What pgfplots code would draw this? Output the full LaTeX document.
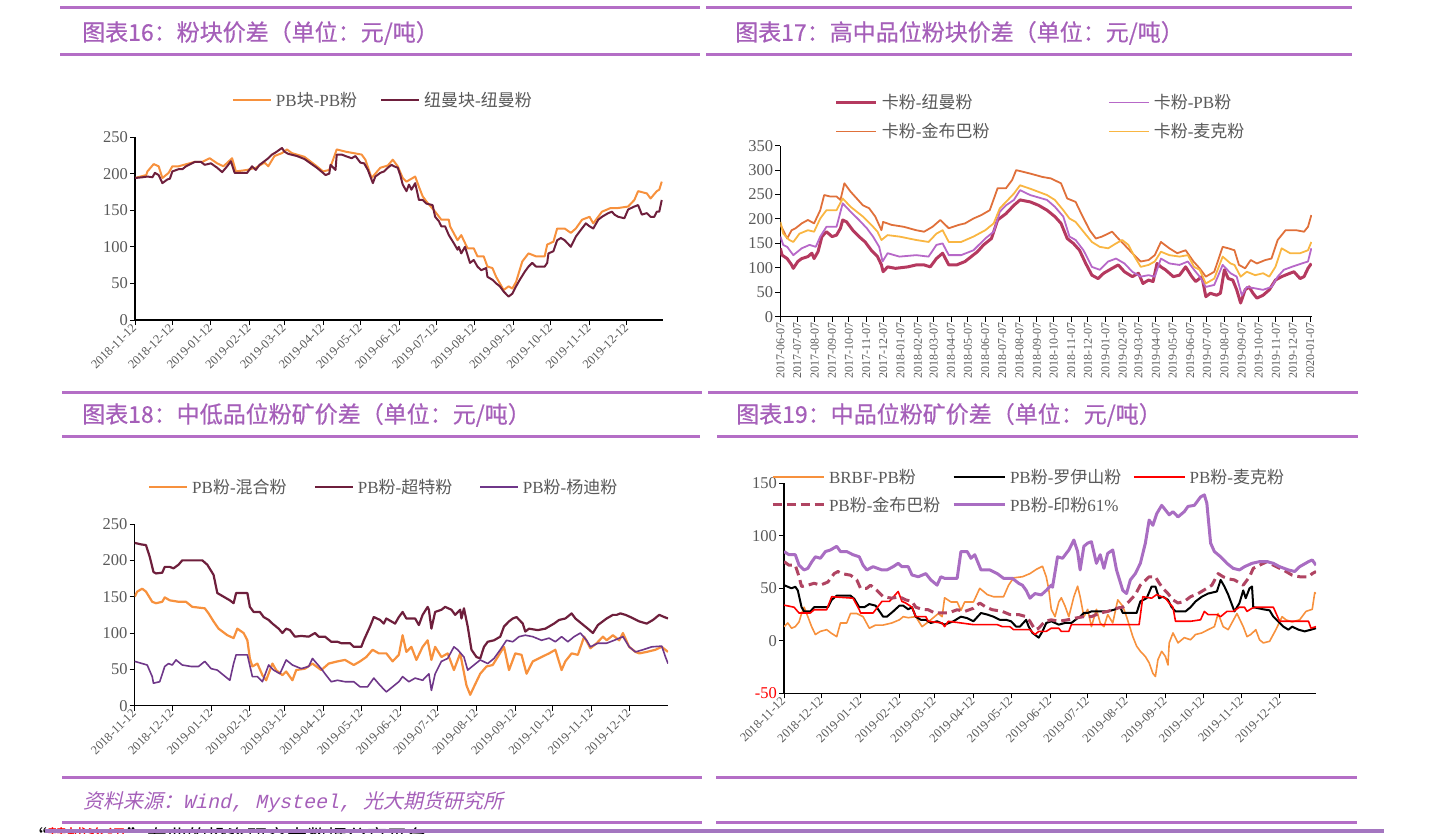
\documentclass[border=0pt]{standalone}
\usepackage{fontspec}
\usepackage{pgfplots}
\pgfplotsset{compat=1.18}
\setmainfont{Liberation Serif}
\newfontfamily\cjk{Noto Sans CJK SC}
\newfontfamily\cjkt{Noto Sans CJK SC}[FakeBold=0.6]
\newfontfamily\cjksl{Noto Sans CJK SC}[FakeSlant=0.22]
\newfontfamily\monosl{Liberation Mono}[FakeSlant=0.22]
\newcommand\zh[1]{{\cjk #1}}
\definecolor{deco}{HTML}{B46EC6}
\definecolor{deco2}{HTML}{A476C0}
\definecolor{titlec}{HTML}{A55FB9}
\definecolor{lblgray}{HTML}{595959}
\definecolor{org}{HTML}{F7913D}
\definecolor{maroonA}{HTML}{6E1F3C}
\definecolor{ptwomaroon}{HTML}{B5395F}
\definecolor{ptwopurple}{HTML}{B768C8}
\definecolor{ptwoorange}{HTML}{E0703A}
\definecolor{ptwoyellow}{HTML}{F9B642}
\definecolor{pthreepurple}{HTML}{6F3789}
\definecolor{pfourdash}{HTML}{B04462}
\definecolor{pfourpurple}{HTML}{A96DC2}
\pgfplotsset{
  panel/.style={
    scale only axis, axis lines=left, axis line style={-, line width=1.2pt, black},
    enlargelimits=false, clip=true,
    tick align=outside, major tick length=5pt, tick style={line width=1pt, black},
    yticklabel style={font=\fontsize{16.5}{16.5}\selectfont, text=lblgray, inner sep=2pt},
    legend style={draw=none, fill=none, font=\fontsize{17}{17}\selectfont, text=lblgray, inner sep=0pt, outer sep=0pt, nodes={inner sep=1pt},
      /tikz/every odd column/.append style={column sep=3pt}},
    legend cell align=left,
    every axis plot/.append style={line join=round},
  },
  datesA/.style={
    xtick={0,30,61,92,120,151,181,212,242,273,304,334,365,395},
    xticklabels={2018-11-12,2018-12-12,2019-01-12,2019-02-12,2019-03-12,2019-04-12,2019-05-12,2019-06-12,2019-07-12,2019-08-12,2019-09-12,2019-10-12,2019-11-12,2019-12-12},
    xticklabel style={font=\fontsize{12.5}{12.5}\selectfont, text=lblgray, rotate=45, anchor=east, inner sep=1pt},
  },
}
\begin{document}
\begin{tikzpicture}
\useasboundingbox (0pt,0pt) rectangle (1440pt,-833pt);
% ---------- decorations ----------
\begin{scope}[line width=3pt, draw=deco]
\draw (60pt,-7pt) -- (700pt,-7pt);
\draw (706pt,-7pt) -- (1352pt,-7pt);
\draw (60pt,-54pt) -- (700pt,-54pt);
\draw (706pt,-54pt) -- (1352pt,-54pt);
\draw (62pt,-392pt) -- (702pt,-392pt);
\draw (708pt,-392pt) -- (1358pt,-392pt);
\draw (62pt,-436pt) -- (700pt,-436pt);
\draw (717pt,-436pt) -- (1358pt,-436pt);
\draw (62pt,-777pt) -- (702pt,-777pt);
\draw (716pt,-777pt) -- (1357pt,-777pt);
\draw (62pt,-822pt) -- (702pt,-822pt);
\draw (716pt,-822pt) -- (1357pt,-822pt);
\end{scope}
\begin{scope}[every node/.style={anchor=west, inner sep=0pt, text=titlec, font=\cjkt\fontsize{23}{23}\selectfont}]
\node at (82pt,-33pt) {图表16：粉块价差（单位：元/吨）};
\node at (735pt,-33pt) {图表17：高中品位粉块价差（单位：元/吨）};
\node at (82pt,-415pt) {图表18：中低品位粉矿价差（单位：元/吨）};
\node at (736pt,-415pt) {图表19：中品位粉矿价差（单位：元/吨）};
\end{scope}
\node[anchor=west, inner sep=0pt, text=titlec, font=\fontsize{20}{20}\selectfont] at (83pt,-802pt) {{\cjksl 资料来源：}{\monosl Wind, Mysteel, }{\cjksl 光大期货研究所}};
\node[anchor=north west, inner sep=0pt, font=\cjk\fontsize{20}{20}\selectfont] at (27pt,-827pt) {“{\color{red}慧博资讯}”专业的投资研究大数据分享平台};
\draw[line width=4pt, draw=deco2] (45pt,-830.5pt) -- (1384pt,-830.5pt);

% ---------- Panel 1 ----------
\begin{axis}[panel, datesA, at={(135pt,-320pt)}, anchor=south west, width=528pt, height=183pt,
  xmin=0, xmax=424, ymin=0, ymax=250, ytick={0,50,100,150,200,250}, yticklabels={0,50,100,150,200,250},
  legend columns=2, legend style={at={(0.1837,1.202)}, anchor=west, /tikz/every even column/.append style={column sep=22pt}},
  legend image code/.code={\draw[#1] (0pt,0pt) -- (38pt,0pt);}]
\addplot[color=org, line width=2pt] coordinates {(0,194)(9,198)(10,203)(15,213)(19,210)(22,194)(27,201)(30,210)(35,210)(48,216)(54,216)(60,221)(66,214)(71,210)(78,221)(81,203)(90,205)(97,208)(104,215)(107,210)(112,224)(118,228)(122,233)(126,228)(136,223)(146,210)(151,203)(156,205)(158,214)(162,233)(169,230)(182,226)(185,219)(190,194)(197,208)(203,211)(207,219)(211,210)(215,194)(218,189)(225,196)(228,182)(231,169)(234,162)(241,148)(246,137)(252,137)(253,128)(259,109)(262,116)(267,98)(272,98)(275,87)(280,87)(283,73)(287,71)(290,59)(293,50)(296,41)(300,46)(303,43)(306,52)(311,80)(316,91)(322,87)(329,87)(331,103)(336,107)(339,125)(345,125)(350,119)(354,125)(359,137)(365,141)(368,132)(375,148)(382,153)(388,153)(396,155)(401,164)(404,176)(411,173)(414,166)(419,176)(421,178)(423,189)};
\addlegendentry{PB\zh{块}-PB\zh{粉}}
\addplot[color=maroonA, line width=2pt] coordinates {(0,194)(6,195)(10,196)(14,195)(16,201)(19,198)(22,187)(26,192)(28,193)(30,203)(35,206)(38,206)(41,210)(48,216)(53,216)(56,212)(61,214)(66,208)(70,202)(74,210)(77,217)(80,201)(90,201)(94,210)(97,205)(100,212)(104,217)(107,221)(110,226)(113,229)(118,235)(120,230)(123,227)(130,224)(136,220)(141,214)(146,208)(151,201)(153,198)(156,200)(157,212)(161,205)(162,226)(166,226)(169,224)(174,221)(177,224)(181,215)(184,214)(187,205)(191,187)(193,196)(197,201)(200,203)(203,208)(206,212)(208,210)(211,208)(213,198)(215,185)(218,176)(220,185)(222,178)(225,187)(228,164)(231,164)(234,159)(239,157)(241,141)(244,135)(246,128)(249,128)(252,116)(256,105)(259,96)(260,100)(262,91)(265,100)(269,78)(272,82)(275,73)(278,68)(282,71)(283,59)(287,55)(290,50)(293,46)(296,39)(300,32)(303,36)(306,46)(309,55)(313,66)(316,73)(319,78)(322,73)(329,73)(331,78)(332,91)(336,94)(339,109)(342,112)(345,109)(350,100)(354,114)(358,123)(362,132)(365,128)(368,125)(372,137)(375,141)(380,146)(383,148)(385,144)(388,141)(393,139)(396,151)(401,155)(404,157)(407,144)(411,146)(414,141)(417,141)(419,148)(421,148)(423,164)};
\addlegendentry{\zh{纽曼块}-\zh{纽曼粉}}
\end{axis}

% ---------- Panel 2 ----------
\begin{axis}[panel, at={(780.4pt,-316.7pt)}, anchor=south west, width=531.5pt, height=171pt,
  xmin=0, xmax=947, ymin=0, ymax=350, ytick={0,50,100,150,200,250,300,350}, yticklabels={0,50,100,150,200,250,300,350},
  xtick={0,30,61,92,122,153,183,214,245,273,304,334,365,395,426,457,487,518,548,579,610,638,669,699,730,760,791,822,852,883,913,944},
  xticklabels={2017-06-07,2017-07-07,2017-08-07,2017-09-07,2017-10-07,2017-11-07,2017-12-07,2018-01-07,2018-02-07,2018-03-07,2018-04-07,2018-05-07,2018-06-07,2018-07-07,2018-08-07,2018-09-07,2018-10-07,2018-11-07,2018-12-07,2019-01-07,2019-02-07,2019-03-07,2019-04-07,2019-05-07,2019-06-07,2019-07-07,2019-08-07,2019-09-07,2019-10-07,2019-11-07,2019-12-07,2020-01-07},
  xticklabel style={rotate=90, anchor=east, font=\fontsize{12}{12}\selectfont, text=lblgray, inner sep=1pt},
  legend columns=2, legend style={at={(0.1027,1.168)}, anchor=west, /tikz/every even column/.append style={column sep=0pt}, row sep=11pt},
  legend image code/.code={\draw[#1] (0pt,0pt) -- (40pt,0pt);}]
\addplot[color=ptwomaroon, line width=3pt] coordinates {(0,140)(3,126)(12,119)(20,106)(23,99)(31,113)(38,119)(49,123)(56,130)(60,119)(67,133)(74,164)(82,174)(92,164)(100,167)(107,181)(111,198)(118,194)(129,177)(140,164)(151,153)(162,136)(173,123)(180,106)(183,92)(191,102)(205,99)(227,102)(242,106)(256,106)(267,102)(278,119)(289,130)(300,106)(314,106)(329,113)(340,123)(351,133)(362,147)(376,160)(387,198)(402,211)(416,228)(427,239)(445,235)(460,228)(475,218)(489,205)(500,191)(511,160)(522,150)(533,136)(544,109)(555,85)(566,78)(576,89)(591,99)(602,106)(613,92)(627,82)(638,89)(646,68)(656,75)(664,72)(671,109)(678,102)(686,96)(700,82)(711,85)(722,102)(733,82)(740,72)(751,82)(758,41)(766,48)(777,44)(784,48)(791,96)(798,78)(806,75)(813,55)(820,28)(828,55)(835,61)(842,48)(849,38)(860,44)(871,55)(882,75)(893,82)(908,89)(915,92)(926,78)(933,82)(940,99)(946,109)};
\addlegendentry{\makebox[225pt][l]{\zh{卡粉}-\zh{纽曼粉}}}
\addplot[color=ptwopurple, line width=1.8pt] coordinates {(0,164)(5,147)(12,143)(23,126)(38,140)(52,147)(63,143)(71,164)(82,184)(100,184)(111,232)(125,215)(140,198)(154,181)(165,164)(176,143)(182,113)(191,130)(212,123)(242,126)(264,123)(278,147)(289,150)(300,126)(322,126)(344,136)(365,160)(380,174)(391,215)(402,228)(416,239)(427,259)(445,249)(475,239)(489,225)(504,205)(515,164)(526,157)(540,136)(555,102)(569,96)(584,113)(598,119)(613,109)(627,92)(642,82)(656,85)(667,82)(678,119)(693,109)(711,106)(726,113)(737,96)(747,82)(758,61)(773,65)(788,106)(802,89)(813,82)(822,44)(831,61)(846,58)(860,55)(875,61)(886,82)(897,96)(911,102)(929,109)(940,113)(946,140)};
\addlegendentry{\zh{卡粉}-PB\zh{粉}}
\addplot[color=ptwoorange, line width=1.8pt] coordinates {(0,188)(5,177)(12,160)(20,177)(27,181)(38,191)(49,198)(60,191)(71,218)(78,249)(89,246)(100,246)(107,239)(114,273)(125,256)(136,242)(147,228)(158,222)(169,205)(180,177)(183,194)(198,188)(220,184)(242,177)(256,174)(271,184)(285,198)(300,181)(318,188)(329,191)(344,201)(358,208)(373,218)(387,263)(402,263)(413,280)(420,300)(431,297)(445,293)(467,286)(482,283)(500,273)(511,242)(526,235)(536,211)(551,177)(562,160)(573,164)(591,174)(602,160)(613,147)(627,130)(642,113)(656,116)(667,126)(678,153)(693,140)(707,130)(722,136)(736,113)(747,99)(758,82)(773,92)(788,143)(798,140)(809,136)(817,106)(828,99)(838,116)(849,109)(864,116)(875,119)(886,157)(900,177)(919,177)(933,174)(940,184)(946,208)};
\addlegendentry{\makebox[225pt][l]{\zh{卡粉}-\zh{金布巴粉}}}
\addplot[color=ptwoyellow, line width=1.8pt] coordinates {(0,194)(5,170)(16,157)(23,153)(34,170)(49,177)(60,174)(71,201)(82,218)(100,218)(111,242)(125,225)(147,205)(162,188)(173,174)(180,157)(191,167)(212,164)(242,157)(264,153)(278,170)(289,177)(300,153)(322,153)(344,164)(365,177)(380,191)(391,222)(402,235)(416,252)(427,269)(445,262)(475,249)(489,239)(504,218)(515,201)(526,194)(540,174)(555,153)(569,143)(584,140)(598,150)(609,157)(620,147)(631,123)(642,102)(656,106)(667,113)(678,133)(693,126)(711,123)(726,126)(737,102)(747,96)(758,68)(773,78)(788,123)(802,109)(809,106)(820,82)(831,92)(846,85)(860,89)(871,82)(882,102)(893,140)(908,130)(926,130)(940,136)(946,153)};
\addlegendentry{\zh{卡粉}-\zh{麦克粉}}
\end{axis}

% ---------- Panel 3 ----------
\begin{axis}[panel, datesA, at={(134.7pt,-705.7pt)}, anchor=south west, width=533.3pt, height=181.7pt,
  xmin=0, xmax=426, ymin=0, ymax=250, ytick={0,50,100,150,200,250}, yticklabels={0,50,100,150,200,250},
  legend columns=3, legend style={at={(0.025,1.2036)}, anchor=west, /tikz/every even column/.append style={column sep=26pt}},
  legend image code/.code={\draw[#1] (0pt,0pt) -- (38pt,0pt);}]
\addplot[color=org, line width=2.2pt] coordinates {(0,150)(2,157)(6,161)(9,157)(14,143)(17,141)(22,143)(24,149)(28,145)(35,143)(41,143)(46,136)(56,134)(59,127)(63,116)(67,106)(74,97)(79,93)(82,106)(87,100)(90,90)(92,65)(94,54)(98,58)(102,42)(105,35)(110,58)(113,49)(118,42)(121,47)(126,35)(129,49)(136,51)(142,58)(149,49)(155,58)(162,61)(168,63)(175,56)(180,61)(185,67)(190,77)(195,72)(201,72)(206,61)(211,70)(214,97)(217,74)(221,81)(225,63)(230,81)(234,90)(237,63)(240,81)(245,67)(250,72)(255,49)(260,72)(265,28)(268,15)(271,26)(276,44)(281,54)(286,56)(291,70)(295,81)(299,49)(304,72)(309,70)(313,44)(318,61)(325,67)(331,72)(336,77)(341,49)(344,61)(349,72)(354,70)(359,95)(364,79)(369,86)(374,95)(377,90)(382,97)(387,90)(390,100)(395,81)(400,74)(403,72)(409,74)(416,77)(421,81)(426,74)};
\addlegendentry{PB\zh{粉}-\zh{混合粉}}
\addplot[color=maroonA, line width=2.2pt] coordinates {(0,224)(5,222)(9,221)(12,205)(15,184)(17,182)(22,183)(24,191)(28,191)(31,189)(35,194)(38,200)(48,200)(54,200)(58,194)(63,180)(66,155)(71,150)(76,145)(79,141)(81,155)(90,155)(92,136)(95,129)(100,129)(103,122)(107,118)(110,113)(115,106)(118,100)(121,106)(124,104)(128,95)(133,96)(139,95)(144,100)(147,95)(152,95)(157,88)(162,88)(165,86)(172,86)(175,81)(181,81)(183,90)(188,109)(191,122)(196,118)(199,113)(201,120)(208,113)(211,122)(214,129)(217,120)(224,120)(227,111)(230,125)(234,136)(235,132)(237,106)(240,129)(245,132)(248,136)(253,132)(256,125)(260,132)(261,120)(263,134)(266,109)(269,77)(273,67)(276,65)(279,81)(282,88)(287,90)(292,95)(295,109)(299,116)(302,120)(305,122)(310,113)(312,102)(315,106)(322,104)(328,106)(335,113)(339,118)(344,120)(349,127)(352,120)(357,113)(362,106)(366,100)(370,111)(377,120)(382,125)(385,125)(388,127)(392,125)(396,122)(403,116)(409,113)(414,118)(419,125)(423,122)(426,120)};
\addlegendentry{PB\zh{粉}-\zh{超特粉}}
\addplot[color=pthreepurple, line width=1.6pt] coordinates {(0,61)(6,58)(10,56)(14,40)(15,31)(20,33)(24,54)(27,58)(30,56)(33,63)(38,56)(45,54)(51,54)(56,61)(61,51)(66,49)(71,42)(76,35)(79,58)(81,70)(90,70)(94,40)(98,40)(102,33)(107,56)(111,49)(116,44)(121,63)(126,56)(133,51)(139,54)(142,65)(149,51)(152,44)(157,33)(162,35)(168,33)(175,33)(180,26)(186,26)(191,38)(196,28)(201,19)(206,26)(211,33)(214,40)(219,33)(224,38)(230,35)(235,44)(237,21)(240,44)(245,61)(250,65)(255,81)(258,77)(263,67)(266,49)(271,56)(276,63)(282,58)(287,65)(292,77)(297,90)(302,88)(307,95)(312,97)(318,95)(325,90)(331,93)(336,88)(341,95)(346,88)(351,95)(356,100)(361,90)(364,81)(370,86)(377,86)(383,90)(390,95)(395,81)(400,74)(406,77)(413,81)(421,82)(424,67)(426,58)};
\addlegendentry{PB\zh{粉}-\zh{杨迪粉}}
\end{axis}

% ---------- Panel 4 ----------
\begin{axis}[panel, datesA, at={(784pt,-693.3pt)}, anchor=south west, width=532pt, height=210pt,
  xmin=0, xmax=424, ymin=-50, ymax=150, ytick={-50,0,50,100,150}, yticklabels={\textcolor{red}{-50},0,50,100,150},
  legend columns=3, legend style={at={(-0.0244,0.963)}, anchor=west, /tikz/every even column/.append style={column sep=0pt}, row sep=10pt},
  legend image code/.code={\draw[#1] (0pt,0pt) -- (51pt,0pt);}]
\addplot[color=org, line width=1.6pt] coordinates {(0,13.5)(3,17)(6,12)(9,13.5)(12,18)(14,26)(16,32)(19,23)(22,13.5)(25,6)(29,9)(34,10.6)(38,7)(42,4)(45,17)(50,17)(53,26)(58,26)(63,23)(68,12)(73,15)(79,15)(86,17)(92,20)(95,23)(99,22)(105,23)(110,13.5)(115,18)(120,23)(123,26)(126,23)(128,41)(133,37)(138,37)(141,29)(144,37)(151,37)(156,50)(159,47)(162,44)(167,42)(175,42)(179,53)(183,60)(190,61)(196,64)(201,68)(206,71)(209,61)(211,49)(213,30)(216,23)(219,37)(221,41)(224,33)(227,23)(231,42)(234,52)(236,42)(239,23)(242,30)(245,13.5)(249,30)(252,17)(255,13.5)(258,25)(262,17)(266,39)(270,33)(273,23)(278,4)(281,-5)(284,-10)(288,-15)(291,-21)(294,-31)(296,-34)(298,-18)(301,-10)(304,-15)(306,-23)(307,-2)(310,7.5)(314,-2)(319,3)(324,1)(328,6)(333,7.5)(338,10.6)(343,13.5)(346,26)(350,13.5)(354,10.6)(361,26)(366,13.5)(369,4)(372,6)(376,10.6)(379,1)(382,-2)(387,-0.5)(392,10.6)(397,23)(400,20)(405,18)(411,20)(416,28)(421,30)(423,46)(424,45)};
\addlegendentry{\makebox[122pt][l]{BRBF-PB\zh{粉}}}
\addplot[color=black, line width=2pt] coordinates {(0,53)(3,51.5)(6,50)(9,51.5)(11,48)(14,32)(16,28)(21,28)(24,32)(29,32)(35,32)(38,39)(42,43)(47,43)(53,43)(56,40)(60,32)(64,32)(68,35)(73,33.5)(79,23)(82,23)(87,28)(92,33.5)(95,33.5)(99,30)(102,32)(105,23)(109,20)(113,20)(117,17)(122,18.6)(128,15.4)(135,18.6)(141,23)(146,21.6)(151,18.6)(157,26.5)(162,25)(167,23)(172,20)(177,20)(181,18.6)(185,13.5)(188,13.5)(193,20)(195,13.5)(198,7.5)(203,3)(206,9)(209,17)(213,18.6)(216,17)(219,15.4)(224,17)(229,17)(234,21.6)(236,23)(239,26.5)(242,26.5)(245,28)(252,28)(258,28)(263,29.6)(268,32)(270,26.5)(275,26.5)(281,26.5)(284,37.5)(289,40.6)(293,51.7)(296,51.7)(299,40.6)(302,42)(306,39)(309,32)(312,28)(320,28)(324,32)(328,37.5)(333,42)(338,45)(345,47)(348,58)(351,51.7)(354,44)(359,28)(363,36)(366,48)(368,40.6)(371,50)(373,51.7)(374,32)(382,30)(387,29)(390,23)(395,17)(398,13.5)(402,10.6)(405,13.5)(410,10.6)(415,9)(420,10.6)(424,12)};
\addlegendentry{\makebox[122pt][l]{PB\zh{粉}-\zh{罗伊山粉}}}
\addplot[color=red, line width=1.6pt] coordinates {(0,34)(8,32)(12,26.5)(21,26.5)(24,29.6)(34,29.6)(38,42)(55,40.6)(60,29.6)(61,26.5)(71,26.5)(73,29.6)(78,37.5)(84,37.5)(91,47)(94,37.5)(97,36)(102,32)(105,23)(113,23)(115,18.6)(126,17)(128,13.5)(131,18.6)(141,17)(151,15.4)(170,15.4)(174,13.5)(180,13.5)(183,10.6)(196,10.6)(200,6)(203,9)(209,9)(213,12)(219,12)(221,9)(227,9)(229,15.4)(283,15.4)(286,42)(293,40.6)(297,44)(304,40.6)(307,36)(310,32)(312,18.6)(324,18.6)(332,20)(335,28)(338,25)(345,25)(348,23)(353,28)(358,28)(363,32)(367,32)(369,28)(373,31)(376,32)(390,32)(395,18.6)(402,18.6)(418,18.6)(420,12)(424,13.5)};
\addlegendentry{PB\zh{粉}-\zh{麦克粉}}
\addplot[color=pfourdash, line width=3pt, dash pattern=on 9pt off 5pt] coordinates {(0,75.4)(4,72)(9,72)(12,61)(14,51.7)(19,53)(24,54.8)(29,53)(35,56)(40,64)(43,66)(46,64)(53,62.5)(58,58)(61,50)(66,50)(69,53)(74,48)(79,42)(86,40.6)(92,42)(97,39)(102,37.5)(105,32)(110,30)(115,29.6)(120,26.5)(125,26.5)(131,26.5)(138,29.6)(144,28)(151,31)(156,36)(161,32)(166,29.6)(174,28)(180,25)(187,25)(193,23)(196,18.6)(200,10.6)(203,12)(208,18.6)(213,20)(219,18.6)(226,20)(232,21.6)(239,23)(245,23)(252,26.5)(258,28)(265,31)(270,32)(275,37.5)(280,44)(284,53)(291,61)(296,61)(299,55)(302,50)(306,45)(310,39)(314,36)(319,37.5)(324,42)(330,45)(337,50)(341,53)(346,64)(350,61)(354,59)(359,58)(366,53)(371,61)(374,69)(379,72)(385,75.4)(390,72)(395,69)(400,66)(405,62.5)(411,61)(418,61)(421,64)(424,66)};
\addlegendentry{\makebox[122pt][l]{PB\zh{粉}-\zh{金布巴粉}}}
\addplot[color=pfourpurple, line width=3pt] coordinates {(0,85)(4,82)(9,82)(12,72)(16,67.5)(19,69)(22,75)(25,80)(29,78.6)(33,85)(37,86.5)(42,90)(45,85)(50,85)(55,82)(60,80)(63,72)(66,67.5)(71,70.6)(78,67.5)(82,67.5)(87,70.6)(91,73.8)(94,70.6)(99,70.6)(102,62.7)(107,61)(113,64)(117,58)(122,53)(125,61)(128,59.5)(133,59.5)(138,59.5)(141,85)(146,85)(149,78.6)(152,82)(157,67.5)(164,67.5)(170,64)(175,59.5)(182,59.5)(187,54.8)(190,53)(193,48)(196,40.6)(200,45)(205,43.7)(209,48)(213,53)(214,51)(218,80)(222,78.6)(227,86.5)(231,96)(234,85)(236,67.5)(239,90)(242,93)(245,94.4)(249,73.8)(252,82)(255,69)(258,83.3)(262,86.5)(265,67.5)(270,48)(273,45)(276,58)(280,64)(284,73.8)(288,93)(291,115)(294,110)(297,121)(301,129)(304,124.6)(307,120)(310,123)(314,118)(319,123)(322,128)(327,129)(332,137)(335,139)(337,131)(340,93)(343,85)(348,80)(353,73.8)(358,69)(363,67.5)(367,70.6)(373,73.8)(379,75.4)(385,75.4)(390,73.8)(395,70.6)(402,67.5)(407,66)(411,70.6)(418,75.4)(421,77)(424,72)};
\addlegendentry{PB\zh{粉}-\zh{印粉}61\%}
\end{axis}
\end{tikzpicture}
\end{document}
